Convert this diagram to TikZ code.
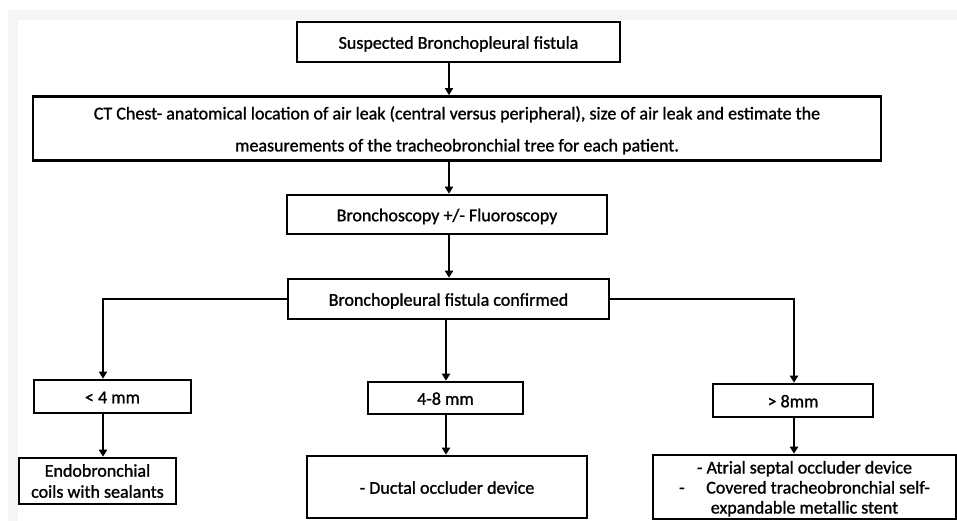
\documentclass[tikz,border=0pt]{standalone}
\usepackage{fontspec}
\setmainfont{Carlito}
\newfontfamily\flowfont[FakeBold=1.2]{Carlito}
\usetikzlibrary{arrows.meta}
\newcommand{\mlines}[3]{\raisebox{-#1}[\height][\depth]{\fontsize{18}{#2}\selectfont\begin{tabular}{@{}c@{}}#3\end{tabular}}}
\begin{document}
\begin{tikzpicture}[x=1pt,y=-1pt,
  boxbase/.style={draw=black,line width=2.6pt,fill=white,inner sep=0pt,font=\flowfont\fontsize{18}{20}\selectfont},
  box/.style={boxbase,text height=17pt,text depth=3.5pt},
  mbox/.style={boxbase},
  arr/.style={line width=2.6pt,-{Triangle[width=8pt,length=7pt]}}]
\useasboundingbox (0,0) rectangle (957,521);
\fill[gray!8] (8,10) rectangle (957,521);
\fill[white] (18,20) rectangle (957,521);
% main column
\node[box,minimum width=323pt,minimum height=40pt] (b1) at (458.5,42) {Suspected Bronchopleural fistula};
\node[mbox,minimum width=848pt,minimum height=55pt] (b2) at (457,128.5)
  {\mlines{0.5pt}{32}{CT Chest- anatomical location of air leak (central versus peripheral), size of air leak and estimate the\\
   measurements of the tracheobronchial tree for each patient.}};
\node[box,minimum width=320pt,minimum height=39pt] (b3) at (447,214.5) {Bronchoscopy +/- Fluoroscopy};
\node[box,minimum width=321pt,minimum height=40pt] (b4) at (448.5,299) {Bronchopleural fistula confirmed};
% size boxes
\node[box,minimum width=157pt,minimum height=33pt] (b5) at (112.5,396.5) {< 4 mm};
\node[box,minimum width=155pt,minimum height=32pt] (b6) at (445.5,398) {4-8 mm};
\node[box,minimum width=160pt,minimum height=33pt] (b7) at (793,400.5) {> 8mm};
% treatment boxes
\node[mbox,minimum width=157pt,minimum height=46pt] (b8) at (97.5,481) {\mlines{2pt}{21}{Endobronchial\\coils with sealants}};
\node[box,minimum width=280pt,minimum height=62pt] (b9) at (447,487) {- Ductal occluder device};
\node[mbox,minimum width=303pt,minimum height=64pt] (b10) at (804.5,487)
  {\mlines{2.5pt}{20}{- Atrial septal occluder device\\-\hspace{1.2em}Covered tracheobronchial self-\\expandable metallic stent}};
% helper columns
\coordinate (ax) at (449,0);
\coordinate (lx) at (103,0);
\coordinate (mx) at (446,0);
\coordinate (rx) at (794,0);
\draw[arr] (b1.south -| ax) -- (b2.north -| ax);
\draw[arr] (b2.south -| ax) -- (b3.north -| ax);
\draw[arr] (b3.south -| ax) -- (b4.north -| ax);
\draw[arr] (b4.west) -| (b5.north -| lx);
\draw[arr] (b4.south -| mx) -- (b6.north -| mx);
\draw[arr] (b4.east) -| (b7.north -| rx);
\draw[arr] (b5.south -| lx) -- (b8.north -| lx);
\draw[arr] (b6.south -| mx) -- (b9.north -| mx);
\draw[arr] (b7.south -| rx) -- (b10.north -| rx);
\end{tikzpicture}
\end{document}
